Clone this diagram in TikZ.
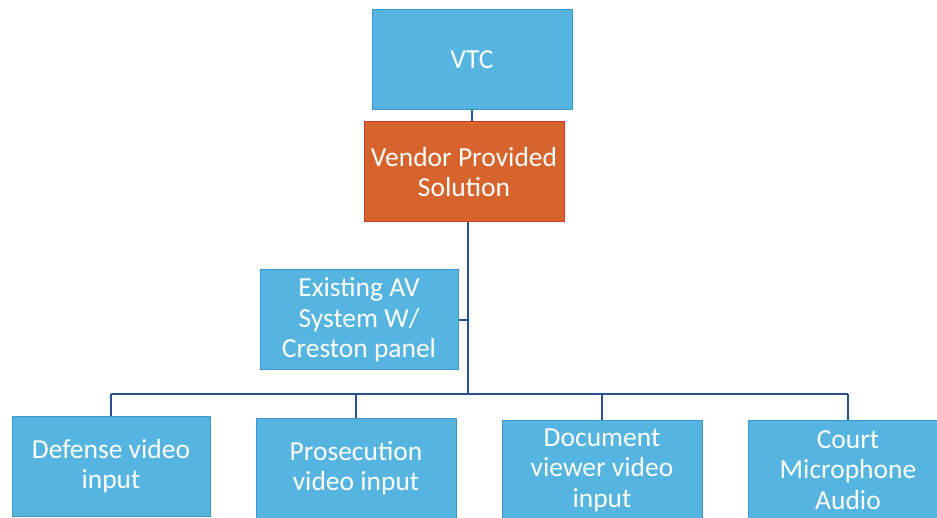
\documentclass[tikz,border=0pt]{standalone}
\usepackage{fontspec}
\setmainfont{Carlito}
\usepackage{tikz}
\definecolor{boxblue}{RGB}{86,180,224}
\definecolor{edgeblue}{RGB}{60,150,205}
\definecolor{vendororange}{RGB}{214,100,44}
\definecolor{vendoredge}{RGB}{200,60,40}
\definecolor{linkblue}{RGB}{40,80,150}

\begin{document}
\begin{tikzpicture} [x=1pt, y=-1pt,
	box/.style={draw=edgeblue, fill=boxblue, line width=1pt, minimum width=200pt, minimum height=100pt, inner sep=0pt, align=center, text=white, font=\fontsize{27.5}{30.5}\selectfont},
	vendorbox/.style={box, draw=vendoredge, fill=vendororange},
	link/.style={draw=linkblue, line width=1.6pt}]
		\useasboundingbox (0, 0) rectangle (937, 518);
		\clip (0, 0) rectangle (937, 518);
		\fill[white] (0, 0) rectangle (937, 518);
		\node[box] (vtc) at (472, 60) {VTC};
		\node[vendorbox] (vendor) at (464, 172) {Vendor Provided\\Solution};
		\node[box, minimum width=198pt] (existing) at (359, 320) {Existing AV\\System W/\\Creston panel};
			\node[box, minimum width=198pt] (defense) at (111, 466) {Defense video\\input};
			\node[box] (prosecution) at (356, 468) {Prosecution\\video input};
			\node[box] (document) at (602, 470) {Document\\viewer video\\input};
			\node[box] (court) at (848, 470) {Court\\Microphone\\Audio};
		\coordinate (trunk) at (468, 394);
		\draw[link] (vtc.south) -- (vtc.south |- vendor.north);
		\draw[link] (vendor.south -| trunk) -- (trunk);
		\draw[link] (existing.east) -- (existing.east -| trunk);
		\draw[link] (defense.north |- trunk) -- (court.north |- trunk);
			\draw[link] (defense.north |- trunk) -- (defense.north);
			\draw[link] (prosecution.north |- trunk) -- (prosecution.north);
			\draw[link] (document.north |- trunk) -- (document.north);
			\draw[link] (court.north |- trunk) -- (court.north);
\end{tikzpicture}
\end{document}
